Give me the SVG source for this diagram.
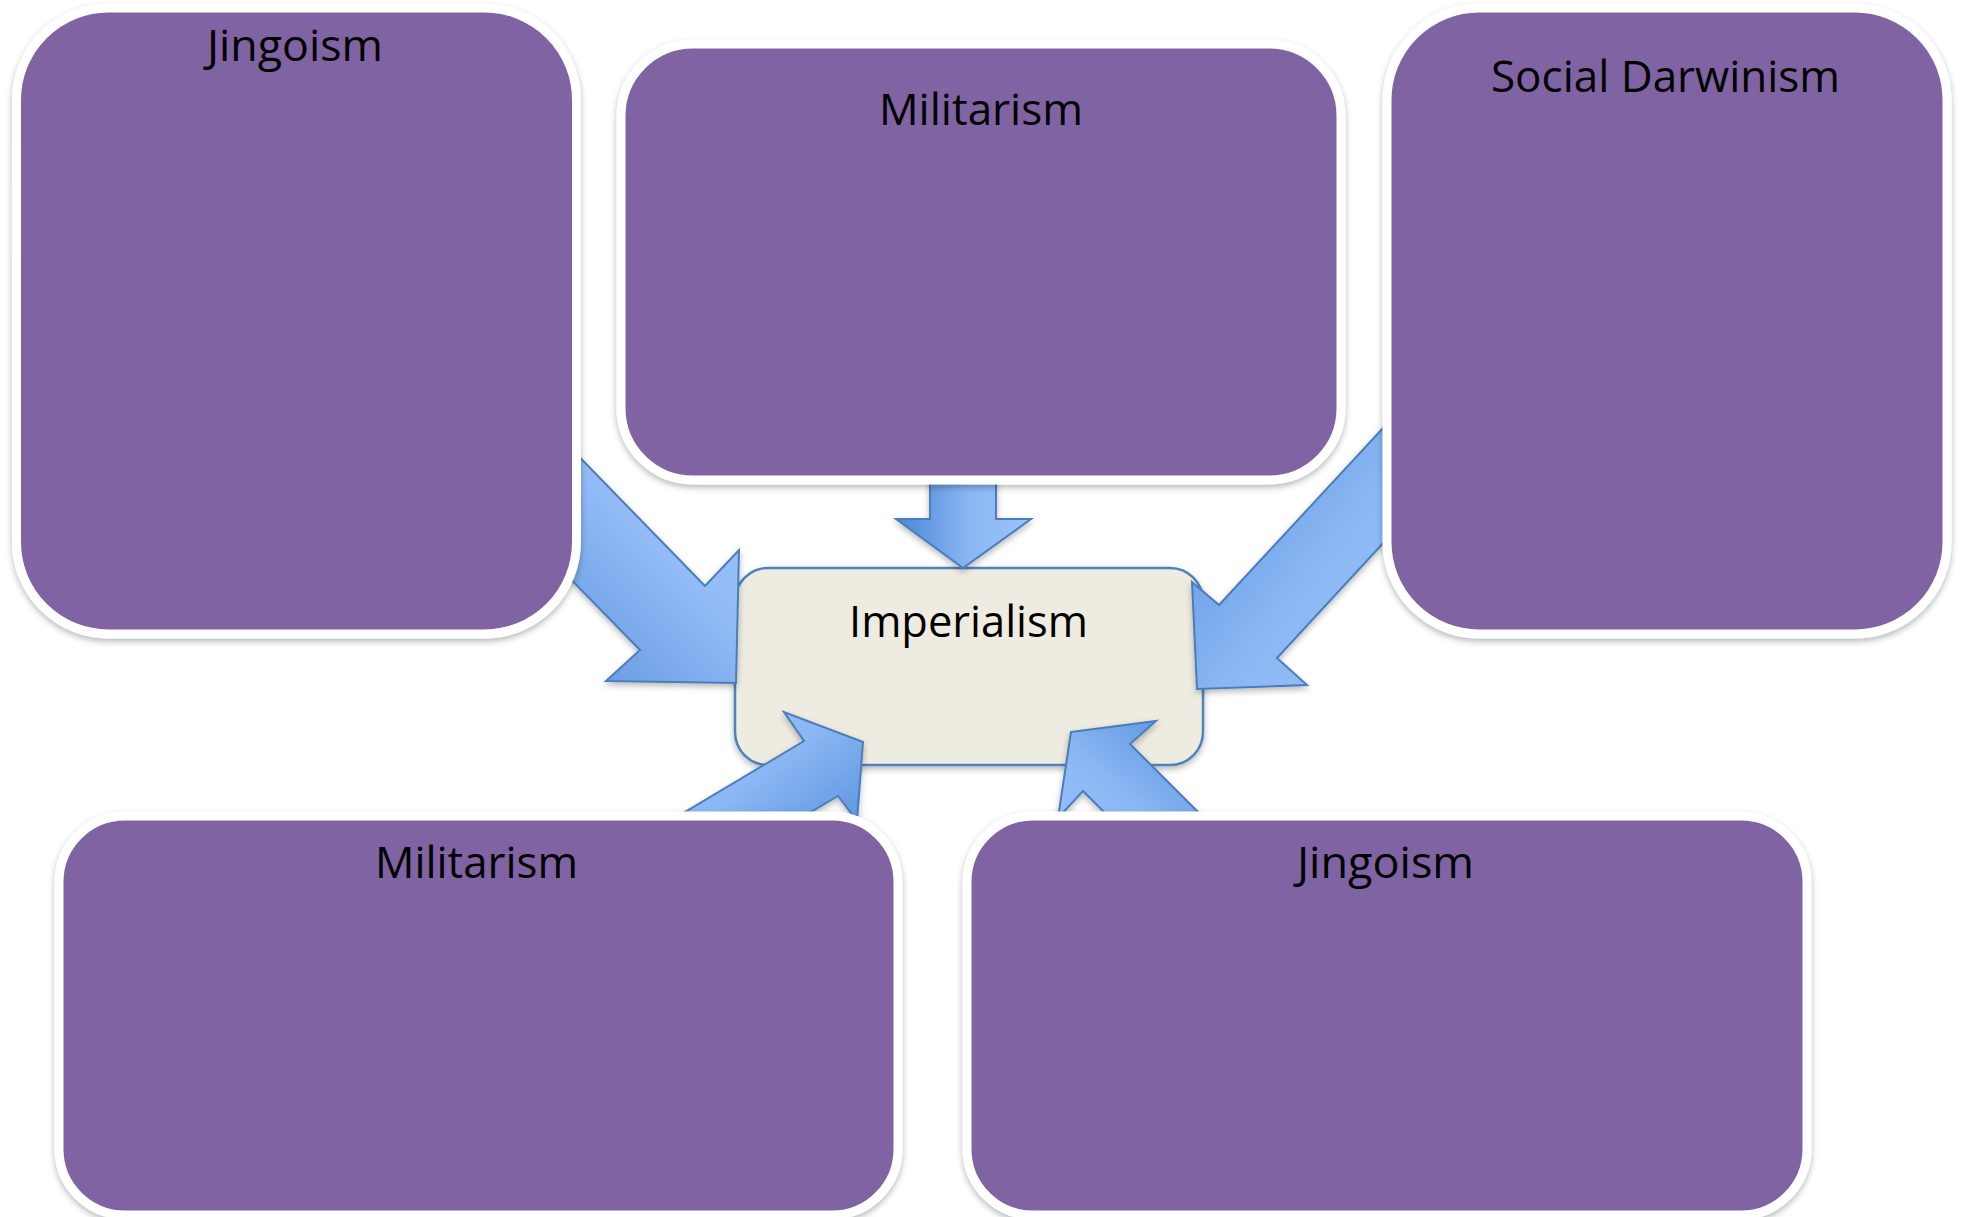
<svg xmlns="http://www.w3.org/2000/svg" width="1963" height="1217" viewBox="0 0 1963 1217">
<defs>
  <filter id="sh" x="-10%" y="-10%" width="120%" height="125%">
    <feDropShadow dx="0" dy="3" stdDeviation="3" flood-color="#000" flood-opacity="0.28"/>
  </filter>
  <linearGradient id="gDown" x1="0" y1="0" x2="1" y2="0">
    <stop offset="0" stop-color="#4A86D4"/><stop offset="0.55" stop-color="#8AB7F4"/><stop offset="1" stop-color="#9DC3FA"/>
  </linearGradient>
  <linearGradient id="gTL" x1="0" y1="1" x2="1" y2="0">
    <stop offset="0" stop-color="#4A86D4"/><stop offset="0.6" stop-color="#93BCF7"/><stop offset="1" stop-color="#9DC3FA"/>
  </linearGradient>
  <linearGradient id="gTR" x1="0" y1="0" x2="1" y2="1">
    <stop offset="0" stop-color="#4A86D4"/><stop offset="0.55" stop-color="#8AB7F4"/><stop offset="1" stop-color="#9DC3FA"/>
  </linearGradient>
  <linearGradient id="gBL" x1="0" y1="0" x2="1" y2="1">
    <stop offset="0" stop-color="#9DC3FA"/><stop offset="0.45" stop-color="#8AB7F4"/><stop offset="1" stop-color="#4A86D4"/>
  </linearGradient>
  <linearGradient id="gBR" x1="0" y1="1" x2="1" y2="0">
    <stop offset="0" stop-color="#9DC3FA"/><stop offset="0.45" stop-color="#8AB7F4"/><stop offset="1" stop-color="#4A86D4"/>
  </linearGradient>
</defs>
<style>
  .box { fill: #8064A2; stroke: #FFFFFF; stroke-width: 9; filter: url(#sh); }
  .center { fill: #EEECE1; stroke: #4F81BD; stroke-width: 2.5; filter: url(#sh); }
  .arrow { stroke: #4A7EBB; stroke-width: 2; stroke-linejoin: miter; filter: url(#sh); }
  .lbl { font-family: "Open Sans", "Liberation Sans", sans-serif; font-size: 44px; fill: #000000; text-anchor: middle; }
</style>
<rect width="1963" height="1217" fill="#FFFFFF"/>

<g id="imperialism">
  <rect class="center" x="735" y="568" width="468" height="197" rx="33" ry="33"/>
  <text class="lbl" x="968.5" y="637" textLength="239" lengthAdjust="spacingAndGlyphs">Imperialism</text>
</g>

<g id="connectors">
  <polygon class="arrow" fill="url(#gDown)" points="930,470 996,470 996,519 1031,519 963,568 896,519 930,519"/>
  <polygon class="arrow" fill="url(#gTL)" points="520,396 705,586 739,550 736,683 606,681 640,650 455,461"/>
  <polygon class="arrow" fill="url(#gTR)" points="1460,345 1219,605 1192,582 1197,689 1307,685 1277,658 1460,460"/>
  <polygon class="arrow" fill="url(#gBL)" points="863,742 784,712 804,741 650,833 700,878 838,796 857,821"/>
  <polygon class="arrow" fill="url(#gBR)" points="1071,732 1156,721 1130,744 1230,844 1163,871 1083,791 1058,818"/>
</g>

<g id="jingoism-top">
  <rect class="box" x="16.5" y="8" width="560" height="626" rx="92" ry="92"/>
  <text class="lbl" x="295" y="61" textLength="176" lengthAdjust="spacingAndGlyphs">Jingoism</text>
</g>

<g id="militarism-top">
  <rect class="box" x="621" y="44" width="720" height="436" rx="72" ry="72"/>
  <text class="lbl" x="981" y="125" textLength="204" lengthAdjust="spacingAndGlyphs">Militarism</text>
</g>

<g id="social-darwinism">
  <rect class="box" x="1387" y="8" width="560" height="626" rx="92" ry="92"/>
  <text class="lbl" x="1665.5" y="92" textLength="349" lengthAdjust="spacingAndGlyphs">Social Darwinism</text>
</g>

<g id="militarism-bottom">
  <rect class="box" x="59" y="816" width="839" height="399" rx="66" ry="66"/>
  <text class="lbl" x="476.5" y="878" textLength="203" lengthAdjust="spacingAndGlyphs">Militarism</text>
</g>

<g id="jingoism-bottom">
  <rect class="box" x="967" y="816" width="840" height="399" rx="66" ry="66"/>
  <text class="lbl" x="1385.5" y="878" textLength="177" lengthAdjust="spacingAndGlyphs">Jingoism</text>
</g>
</svg>
